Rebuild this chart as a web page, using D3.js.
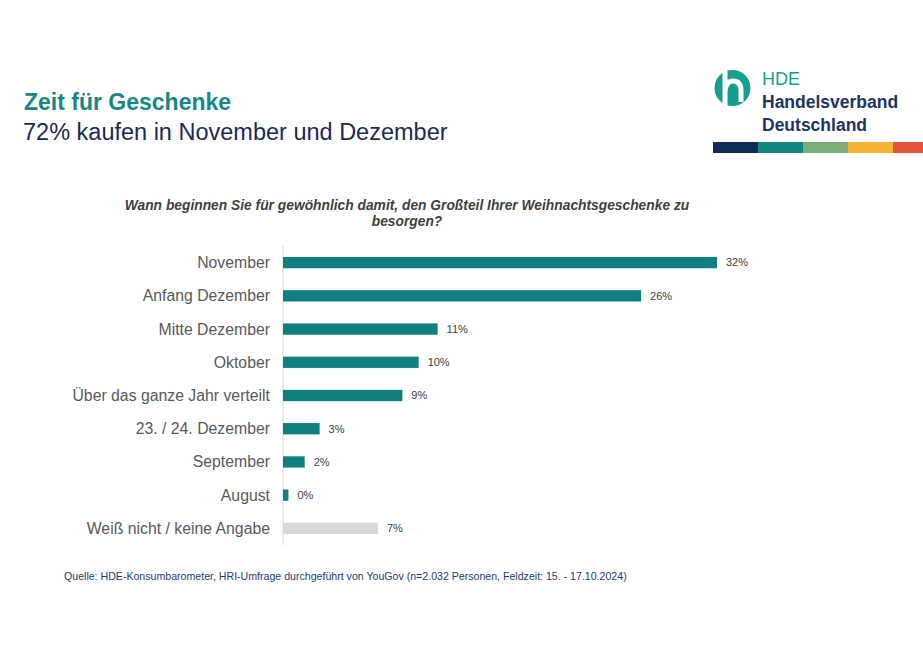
<!DOCTYPE html>
<html><head><meta charset="utf-8">
<script src="https://cdn.jsdelivr.net/npm/d3@7"></script>
<style>
html,body{margin:0;padding:0;background:#fff;}
svg{display:block;font-family:"Liberation Sans",Arial,sans-serif;}
</style></head>
<body>
<svg id="c" width="923" height="661"></svg>
<script>
const categories = ["November","Anfang Dezember","Mitte Dezember","Oktober","Über das ganze Jahr verteilt","23. / 24. Dezember","September","August","Weiß nicht / keine Angabe"];
const values = [32.0, 26.4, 11.4, 10.0, 8.8, 2.7, 1.6, 0.4, 7.0];
const labels = ["32%","26%","11%","10%","9%","3%","2%","0%","7%"];
const isNoAnswer = [false,false,false,false,false,false,false,false,true];
const stripeColors = ["#0f2b57","#138682","#7aaf7a","#f6b334","#e5543a"];

const svg = d3.select("#c");
const teal = "#0f7f7f", navy = "#1a2a55";

// Title
svg.append("text").attr("x",24).attr("y",110).attr("font-size",23).attr("font-weight","bold")
  .attr("fill","#178783").text("Zeit für Geschenke");
svg.append("text").attr("x",23).attr("y",140).attr("font-size",23.5)
  .attr("fill",navy).text("72% kaufen in November und Dezember");

// Logo
const lg = svg.append("g");
lg.append("circle").attr("cx",732.5).attr("cy",88).attr("r",18).attr("fill","#179e8c");
lg.append("path").attr("d","M725,71 L725,107 M725,93 Q725,81 733,81 Q741,81 741,91 L741,102")
  .attr("fill","none").attr("stroke","#fff").attr("stroke-width",5);
lg.append("text").attr("x",762).attr("y",85).attr("font-size",18).attr("fill","#1aa08f").text("HDE");
lg.append("text").attr("x",762).attr("y",108).attr("font-size",17.5).attr("font-weight","600").attr("fill","#1d3463").text("Handelsverband");
lg.append("text").attr("x",762).attr("y",131).attr("font-size",17.5).attr("font-weight","600").attr("fill","#1d3463").text("Deutschland");
const sx = d3.scaleBand().domain(d3.range(stripeColors.length)).range([713,938]);
lg.selectAll("rect.st").data(stripeColors).join("rect").attr("class","st")
  .attr("x",(d,i)=>sx(i)).attr("y",142).attr("width",sx.bandwidth()+0.5).attr("height",11).attr("fill",d=>d);

// Question
const q = svg.append("text").attr("text-anchor","middle").attr("font-size",13.8).attr("font-style","italic")
  .attr("font-weight","bold").attr("fill","#404040");
q.append("tspan").attr("x",407).attr("y",210).text("Wann beginnen Sie für gewöhnlich damit, den Großteil Ihrer Weihnachtsgeschenke zu");
q.append("tspan").attr("x",407).attr("y",226).text("besorgen?");

// Chart
const x = d3.scaleLinear().domain([0,32]).range([283,717]);
const y = d3.scaleBand().domain(categories).range([246,545]).paddingInner(0.66).paddingOuter(0.33);

svg.append("line").attr("x1",283).attr("x2",283).attr("y1",246).attr("y2",545)
  .attr("stroke","#d9d9d9").attr("stroke-width",1);

svg.selectAll("rect.bar").data(categories).join("rect").attr("class","bar")
  .attr("x",x(0)).attr("y",d=>y(d)).attr("height",y.bandwidth())
  .attr("width",(d,i)=>x(values[i])-x(0))
  .attr("fill",(d,i)=>isNoAnswer[i]?"#d9d9d9":teal);

svg.selectAll("text.cat").data(categories).join("text").attr("class","cat")
  .attr("x",270).attr("y",d=>y(d)+y.bandwidth()/2).attr("dy","0.35em")
  .attr("text-anchor","end").attr("font-size",15.8).attr("fill","#595959").text(d=>d);

svg.selectAll("text.val").data(categories).join("text").attr("class","val")
  .attr("x",(d,i)=>x(values[i])+9).attr("y",d=>y(d)+y.bandwidth()/2).attr("dy","0.35em")
  .attr("font-size",11).attr("fill","#404040").text((d,i)=>labels[i]);

// Source
svg.append("text").attr("x",64).attr("y",580).attr("font-size",10.6).attr("fill","#1f3a78")
  .text("Quelle: HDE-Konsumbarometer, HRI-Umfrage durchgeführt von YouGov (n=2.032 Personen, Feldzeit: 15. - 17.10.2024)");
</script>
</body></html>
